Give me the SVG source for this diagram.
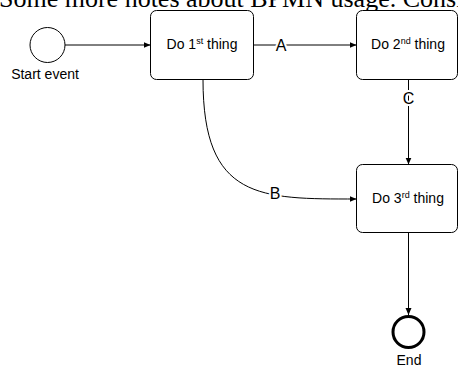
<svg xmlns="http://www.w3.org/2000/svg" width="458" height="372" viewBox="0 0 458 372">
  <style>
    .box { fill: #fff; stroke: #000; stroke-width: 1; }
    .lbl { font-family: "Liberation Sans", Arial, sans-serif; font-size: 14px; fill: #000; text-anchor: middle; }
    .elbl { font-family: "Liberation Sans", Arial, sans-serif; font-size: 16px; fill: #000; text-anchor: middle; stroke: #fff; stroke-width: 4; paint-order: stroke; stroke-linejoin: round; }
    .conn { fill: none; stroke: #000; stroke-width: 1; marker-end: url(#arr); }
    .sup { font-size: 9px; }
  </style>
  <defs>
    <marker id="arr" markerUnits="userSpaceOnUse" markerWidth="8" markerHeight="8" viewBox="0 0 8 8" refX="7" refY="4" orient="auto">
      <path d="M0,1 L7,4 L0,7 Z" fill="#000"/>
    </marker>
  </defs>
  <rect width="458" height="372" fill="#fff"/>
  <text x="-1" y="7" font-family="Liberation Serif, Times New Roman, serif" font-size="26" fill="#000">Some more notes about BPMN usage. Consider</text>

  <g id="connectors">
    <path class="conn" d="M65,45 L150.5,45"/>
    <path class="conn" d="M253.5,45 L356.5,45"/>
    <path class="conn" d="M408.5,79.5 L408.5,164.5"/>
    <path class="conn" d="M203,79.5 C203,200 260,199 356.5,199"/>
    <path class="conn" d="M408.5,232.5 L408.5,315"/>
    <text class="elbl" x="281" y="50.5">A</text>
    <text class="elbl" x="408.5" y="104">C</text>
    <text class="elbl" x="275" y="199">B</text>
  </g>

  <g id="start">
    <circle cx="47.5" cy="45" r="17.5" fill="#fff" stroke="#000" stroke-width="1"/>
    <text class="lbl" x="45" y="79">Start event</text>
  </g>

  <g id="task1">
    <rect class="box" x="150.5" y="10.5" width="103" height="69" rx="6"/>
    <text class="lbl" x="202" y="49">Do 1<tspan class="sup" dy="-5">st</tspan><tspan dy="5"> thing</tspan></text>
  </g>

  <g id="task2">
    <rect class="box" x="356.5" y="10.5" width="101" height="69" rx="6"/>
    <text class="lbl" x="408" y="49">Do 2<tspan class="sup" dy="-5">nd</tspan><tspan dy="5"> thing</tspan></text>
  </g>

  <g id="task3">
    <rect class="box" x="356.5" y="164.5" width="101" height="68" rx="6"/>
    <text class="lbl" x="408" y="203">Do 3<tspan class="sup" dy="-5">rd</tspan><tspan dy="5"> thing</tspan></text>
  </g>

  <g id="end">
    <circle cx="408.5" cy="332" r="15.5" fill="#fff" stroke="#000" stroke-width="3"/>
    <text class="lbl" x="409" y="365">End</text>
  </g>
</svg>
